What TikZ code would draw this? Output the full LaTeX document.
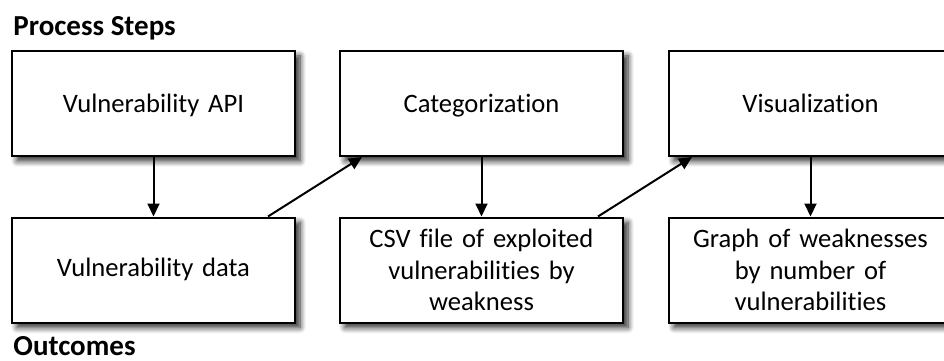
\documentclass[tikz,border=0pt]{standalone}
\usepackage{fontspec}
\setmainfont{Carlito}[Ligatures=NoCommon]
\usepackage{tikz}
\usetikzlibrary{arrows.meta,shadows.blur}

\begin{document}
\begin{tikzpicture}[
    x=0.5pt, y=0.5pt,
    font=\fontsize{13.3}{15.75}\selectfont,
    box/.style={
        draw,
        rectangle,
        fill=white,
        line width=1pt,
        align=center,
        minimum width=141.5pt,
        minimum height=52.5pt,
        text width=135pt,
        inner sep=0pt,
        blur shadow={shadow xshift=2.5pt, shadow yshift=-2.5pt, shadow blur radius=3pt, shadow blur steps=8, shadow opacity=85}
    },
    stepbox/.style={box, text height=1.08em, text depth=0.22em},
    outbox/.style={box, text height=0.84em, text depth=0.22em},
    heading/.style={font=\fontsize{14.5}{16}\selectfont\bfseries, anchor=base west, inner sep=0pt},
    arrow/.style={-{Triangle[width=6pt,length=6.5pt]}, line width=1pt}
]
\useasboundingbox (0,0) rectangle (944,360);

% Section titles
\node[heading] (steps) at (13,325) {Process Steps};
\node[heading] (outc) at (13,5) {Outcomes};

% Top row: process steps
\node[stepbox] (api) at (153.5,256.5) {Vulnerability API};
\node[stepbox] (categ) at (481.5,256.5) {Categorization};
\node[stepbox] (visual) at (810.5,256.5) {Visualization};

% Bottom row: outcomes
\node[outbox] (vdata) at (153.5,90) {Vulnerability data};
\node[box] (csv) at (481.5,90) {CSV file of exploited\\vulnerabilities by\\weakness};
\node[box] (graph) at (810.5,90) {Graph of weaknesses\\by number of\\vulnerabilities};

% Arrows: step to outcome
\draw[arrow] (api) -- (vdata);
\draw[arrow] (categ) -- (csv);
\draw[arrow] (visual) -- (graph);

% Arrows: outcome to next step
\draw[arrow] ([xshift=-14pt]vdata.north east) -- ([xshift=11.5pt]categ.south west);
\draw[arrow] ([xshift=-13pt]csv.north east) -- ([xshift=12pt]visual.south west);

\end{tikzpicture}
\end{document}
